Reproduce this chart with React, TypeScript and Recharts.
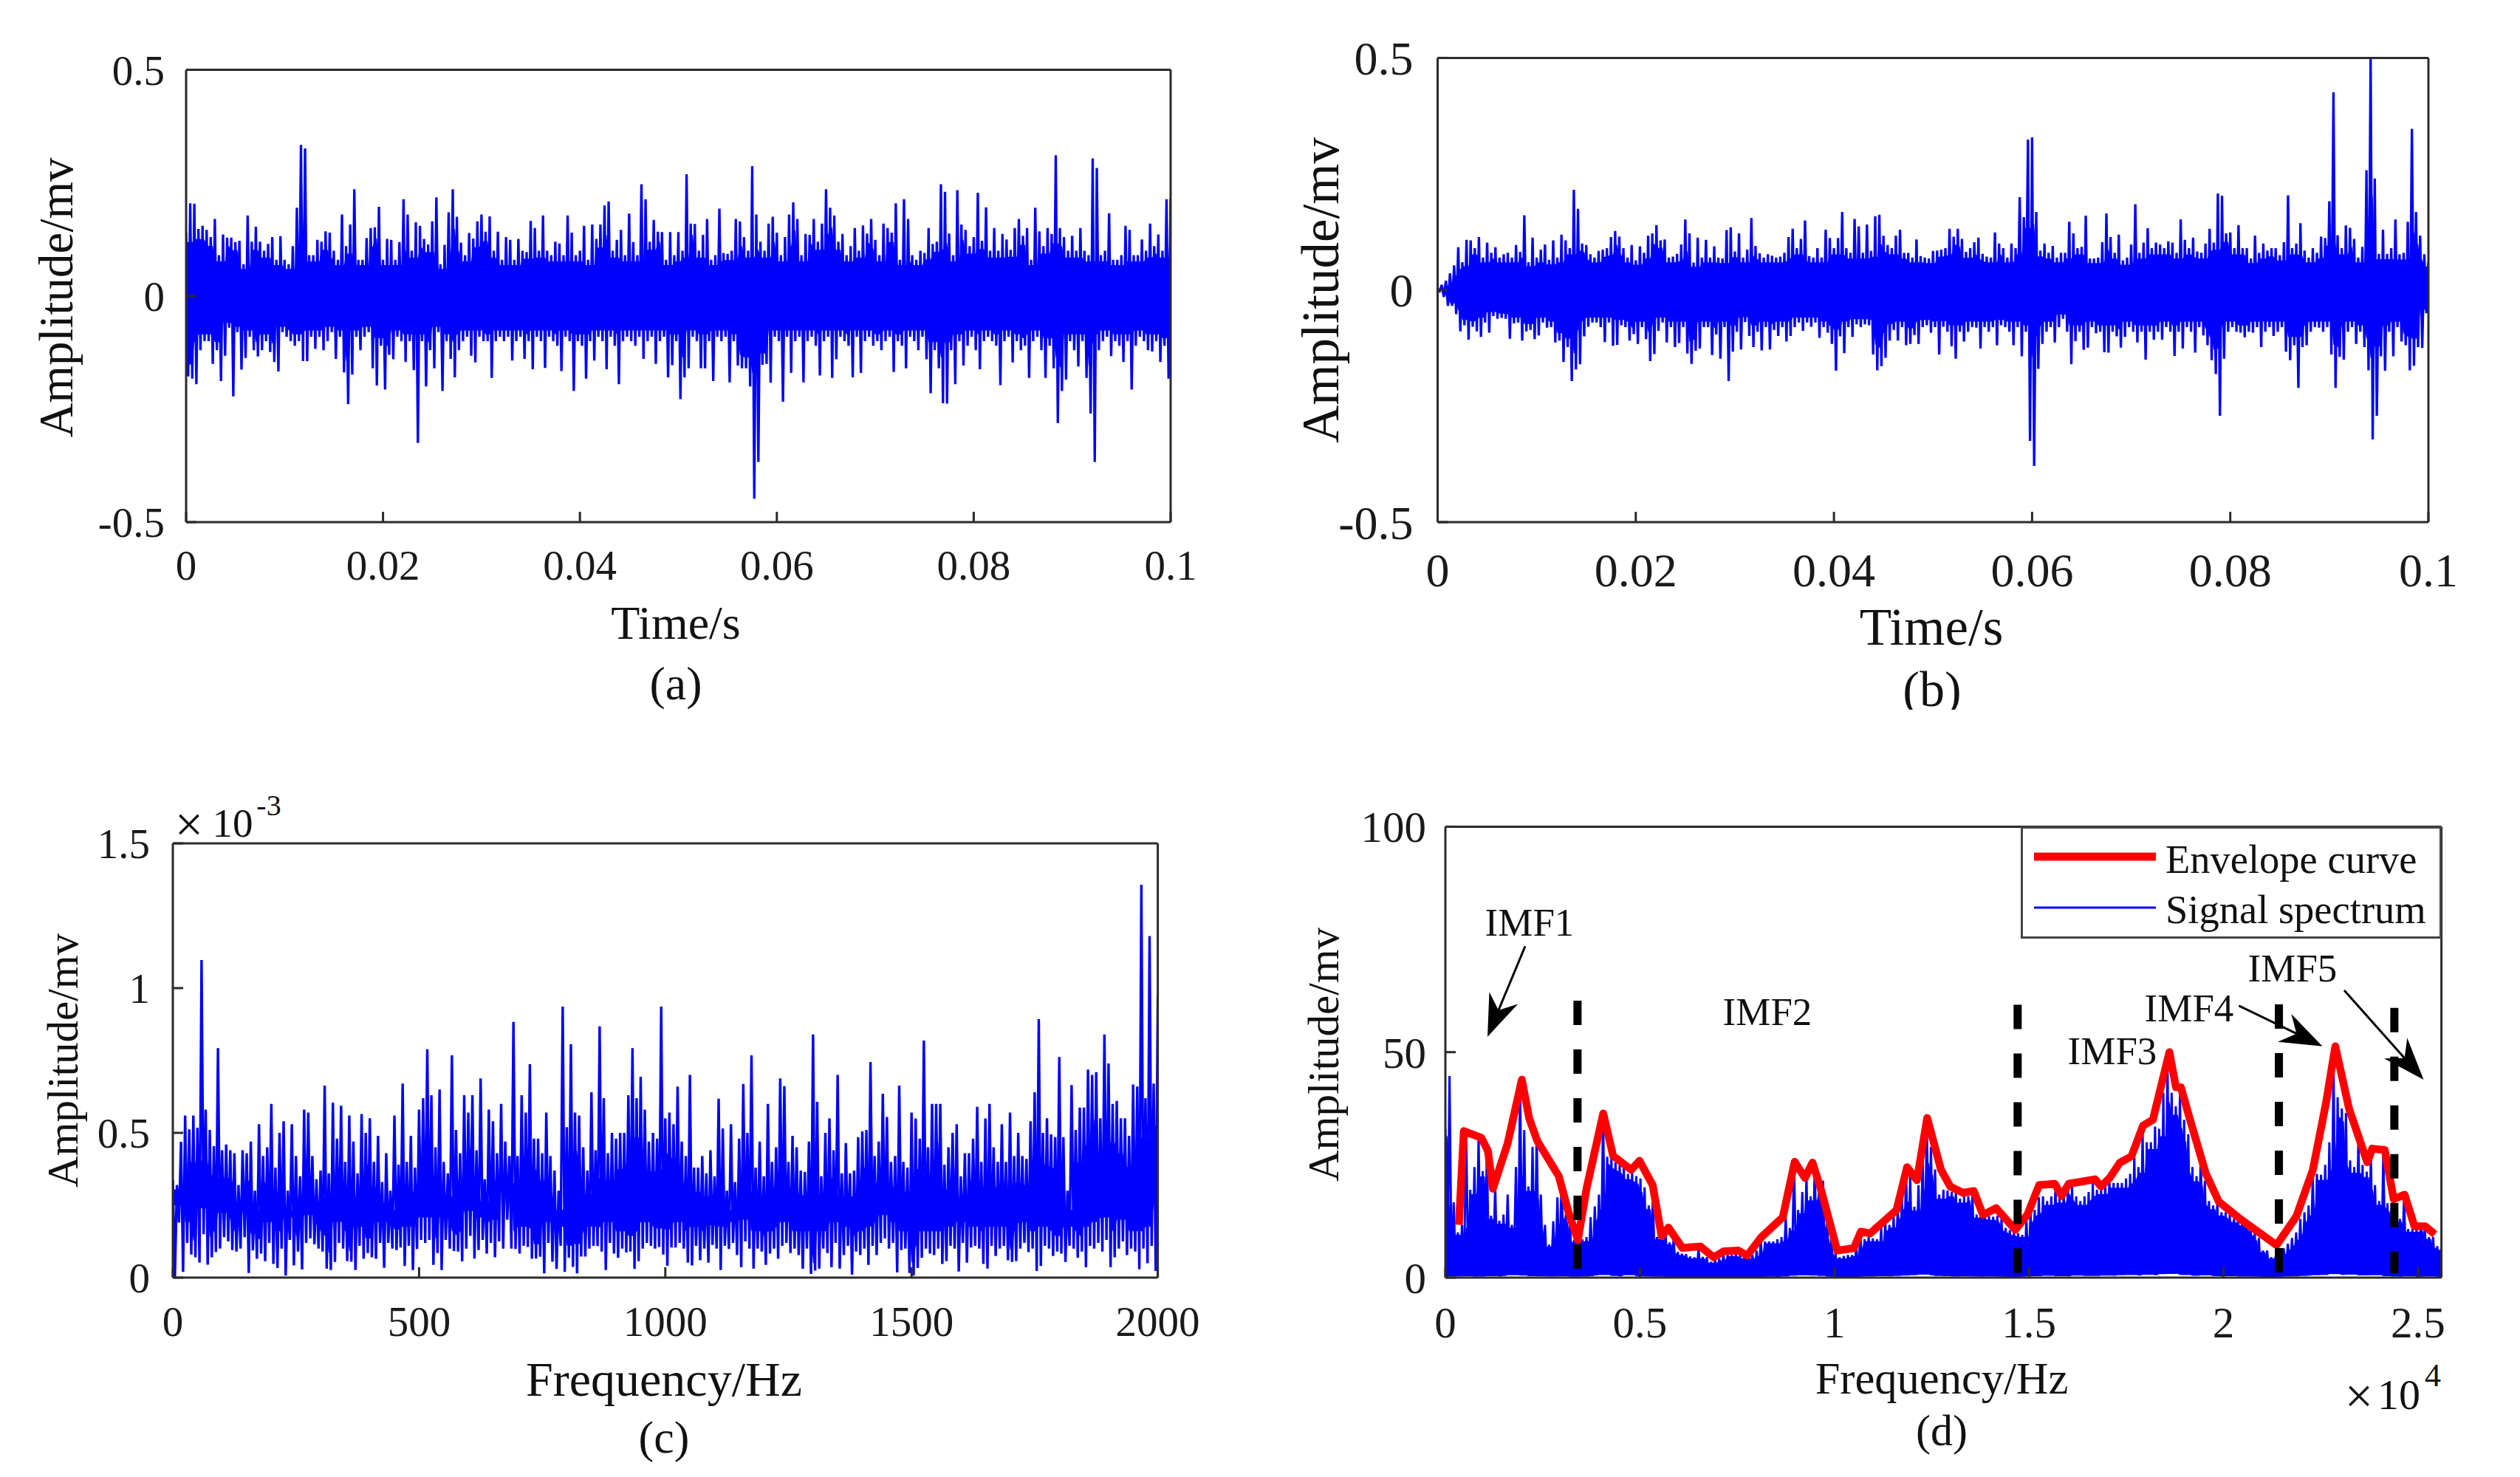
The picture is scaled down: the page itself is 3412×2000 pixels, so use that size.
import type { ReactNode } from 'react';
import { ComposedChart, Area, Line, XAxis, YAxis, ReferenceLine, Legend } from 'recharts';

// panel (a): time signal, peak read per slot along the time axis (mv)
const upperA = [
  .14,.205,.204,.148,.155,.146,.13,.17,.09,.136,.129,.129,.119,.122,.07,.178,.12,.153,.12,.10,
  .115,.13,.08,.132,.08,.07,.11,.195,.334,.326,.09,.09,.124,.12,.143,.14,.10,.08,.18,.11,
  .158,.236,.08,.08,.128,.15,.152,.197,.08,.126,.124,.08,.119,.214,.18,.10,.163,.155,.126,.114,
  .165,.218,.07,.113,.185,.236,.175,.118,.09,.139,.127,.165,.18,.142,.176,.10,.142,.08,.13,.124,
  .08,.126,.10,.097,.166,.15,.10,.178,.10,.09,.12,.116,.09,.178,.14,.09,.10,.155,.08,.158,
  .126,.158,.20,.209,.10,.124,.146,.09,.182,.119,.09,.247,.214,.12,.168,.142,.141,.08,.141,.09,
  .141,.10,.269,.16,.159,.10,.135,.17,.08,.09,.193,.095,.093,.10,.17,.165,.13,.10,.287,.18,
  .12,.10,.16,.175,.14,.09,.13,.18,.207,.17,.09,.137,.135,.17,.12,.16,.236,.195,.178,.12,
  .137,.09,.11,.15,.10,.156,.138,.17,.124,.09,.16,.15,.14,.205,.08,.214,.17,.09,.08,.10,
  .095,.15,.115,.12,.247,.23,.138,.09,.234,.158,.146,.11,.13,.228,.122,.196,.10,.15,.10,.137,
  .125,.102,.15,.17,.133,.15,.08,.195,.143,.11,.15,.137,.311,.15,.13,.10,.133,.10,.15,.10,
  .09,.304,.283,.09,.10,.183,.08,.08,.09,.155,.146,.09,.09,.125,.10,.16,.11,.136,.10,.214,
  .216,
];
const lowerA = [
  -.178,-.183,-.195,-.12,-.10,-.10,-.15,-.12,-.188,-.132,-.07,-.222,-.08,-.163,-.137,-.09,-.12,-.134,-.12,-.10,
  -.124,-.146,-.167,-.08,-.09,-.10,-.11,-.10,-.144,-.144,-.09,-.117,-.09,-.12,-.10,-.08,-.139,-.09,-.169,-.239,
  -.174,-.09,-.12,-.09,-.08,-.16,-.198,-.11,-.207,-.13,-.14,-.09,-.10,-.146,-.10,-.164,-.325,-.10,-.2,-.12,
  -.16,-.08,-.21,-.10,-.139,-.18,-.12,-.10,-.09,-.132,-.147,-.09,-.10,-.10,-.181,-.10,-.09,-.10,-.09,-.143,
  -.10,-.09,-.139,-.10,-.162,-.09,-.10,-.159,-.09,-.10,-.11,-.166,-.09,-.10,-.21,-.10,-.11,-.183,-.10,-.143,
  -.09,-.10,-.162,-.09,-.11,-.195,-.10,-.09,-.10,-.11,-.09,-.139,-.10,-.09,-.15,-.10,-.09,-.18,-.153,-.10,
  -.228,-.18,-.16,-.09,-.10,-.16,-.16,-.10,-.188,-.09,-.10,-.09,-.191,-.10,-.154,-.16,-.16,-.2,-.448,-.367,
  -.152,-.15,-.192,-.09,-.10,-.234,-.09,-.17,-.10,-.09,-.191,-.10,-.09,-.11,-.176,-.10,-.09,-.181,-.14,-.09,
  -.10,-.11,-.18,-.09,-.17,-.10,-.09,-.11,-.10,-.12,-.10,-.09,-.168,-.10,-.11,-.16,-.09,-.10,-.12,-.09,
  -.14,-.215,-.12,-.16,-.237,-.238,-.12,-.195,-.10,-.154,-.11,-.09,-.12,-.162,-.10,-.09,-.10,-.11,-.197,-.10,
  -.09,-.147,-.10,-.12,-.11,-.181,-.10,-.09,-.12,-.181,-.11,-.16,-.281,-.21,-.185,-.10,-.12,-.156,-.10,-.181,
  -.26,-.367,-.12,-.10,-.09,-.133,-.10,-.11,-.146,-.10,-.207,-.11,-.09,-.10,-.12,-.123,-.10,-.146,-.11,-.183,
  -.22,
];

// panel (b)
const upperB = [
  .003,.011,.02,.036,.053,.092,.06,.108,.107,.09,.114,.07,.102,.08,.092,.07,.077,.08,.07,.097,
  .082,.161,.06,.113,.07,.087,.098,.065,.107,.07,.119,.107,.09,.216,.175,.10,.097,.077,.07,.084,
  .087,.09,.114,.127,.115,.09,.07,.097,.064,.094,.08,.117,.122,.14,.107,.109,.07,.072,.078,.098,
  .152,.122,.059,.113,.07,.108,.07,.094,.07,.068,.129,.135,.083,.122,.07,.087,.155,.095,.079,.07,
  .077,.074,.07,.072,.08,.114,.132,.09,.11,.15,.073,.07,.09,.07,.13,.112,.09,.112,.168,.09,
  .08,.153,.137,.08,.141,.084,.159,.162,.117,.097,.09,.117,.13,.08,.08,.07,.109,.073,.07,.068,
  .084,.085,.087,.09,.132,.115,.132,.11,.082,.09,.103,.113,.078,.072,.07,.124,.10,.09,.07,.10,
  .09,.20,.157,.324,.329,.168,.085,.10,.08,.095,.07,.08,.08,.147,.122,.09,.093,.16,.068,.068,
  .07,.103,.165,.114,.08,.119,.064,.07,.098,.185,.08,.102,.133,.09,.102,.098,.09,.105,.102,.08,
  .152,.108,.09,.113,.083,.08,.10,.132,.102,.208,.203,.122,.124,.09,.14,.09,.09,.068,.117,.08,
  .10,.085,.09,.09,.075,.103,.204,.09,.10,.144,.085,.07,.09,.08,.115,.112,.191,.426,.118,.09,
  .139,.134,.11,.07,.093,.258,.5,.24,.078,.13,.078,.09,.152,.077,.08,.147,.347,.168,.117,.077,
  .06,
];
const lowerB = [
  -.002,-.015,-.034,-.034,-.052,-.089,-.076,-.107,-.079,-.089,-.101,-.07,-.092,-.056,-.062,-.06,-.062,-.105,-.072,-.07,
  -.109,-.089,-.086,-.106,-.098,-.07,-.081,-.08,-.113,-.109,-.155,-.123,-.196,-.171,-.16,-.10,-.079,-.07,-.07,-.08,
  -.112,-.07,-.12,-.118,-.076,-.08,-.109,-.095,-.116,-.08,-.106,-.153,-.138,-.088,-.07,-.113,-.08,-.123,-.114,-.08,
  -.137,-.159,-.131,-.126,-.08,-.08,-.14,-.096,-.148,-.08,-.196,-.133,-.09,-.128,-.069,-.099,-.123,-.09,-.13,-.08,
  -.128,-.086,-.099,-.08,-.111,-.099,-.08,-.07,-.088,-.07,-.079,-.07,-.103,-.08,-.092,-.116,-.174,-.10,-.136,-.08,
  -.101,-.074,-.08,-.074,-.076,-.139,-.173,-.164,-.146,-.109,-.086,-.109,-.08,-.119,-.116,-.097,-.116,-.08,-.076,-.092,
  -.08,-.139,-.079,-.09,-.121,-.148,-.09,-.111,-.09,-.08,-.081,-.126,-.08,-.09,-.08,-.119,-.076,-.08,-.09,-.119,
  -.08,-.143,-.09,-.325,-.379,-.17,-.116,-.09,-.08,-.113,-.08,-.062,-.09,-.16,-.11,-.09,-.129,-.124,-.08,-.093,
  -.09,-.134,-.135,-.09,-.10,-.124,-.101,-.08,-.09,-.113,-.09,-.15,-.09,-.107,-.09,-.107,-.08,-.09,-.142,-.09,
  -.126,-.08,-.09,-.135,-.08,-.098,-.119,-.151,-.181,-.271,-.148,-.09,-.08,-.09,-.092,-.102,-.09,-.092,-.08,-.123,
  -.09,-.08,-.099,-.09,-.08,-.133,-.151,-.119,-.211,-.123,-.119,-.09,-.08,-.081,-.09,-.08,-.139,-.211,-.144,-.15,
  -.09,-.08,-.116,-.09,-.123,-.173,-.322,-.271,-.143,-.174,-.09,-.143,-.08,-.111,-.119,-.173,-.163,-.123,-.125,-.05,
  -.05,
];

// panel (c): spectrum in units of 1e-3 mv
const upperC = [
  .338,.32,.469,.56,.512,.56,.518,1.097,.58,.51,.454,.793,.44,.46,.44,.43,.32,.44,.43,.47,
  .30,.53,.42,.45,.6,.38,.5,.54,.30,.53,.42,.35,.58,.57,.42,.34,.37,.663,.36,.604,
  .48,.594,.40,.56,.47,.36,.565,.50,.55,.40,.49,.33,.43,.30,.56,.39,.67,.40,.49,.38,
  .58,.62,.789,.63,.45,.65,.40,.36,.768,.51,.43,.63,.57,.63,.44,.688,.34,.58,.54,.43,
  .60,.47,.42,.883,.42,.63,.57,.737,.48,.48,.43,.57,.42,.37,.30,.936,.52,.806,.57,.56,
  .45,.37,.64,.44,.868,.62,.43,.50,.48,.50,.50,.63,.793,.62,.694,.58,.47,.50,.48,.936,
  .55,.57,.53,.66,.47,.42,.70,.38,.38,.42,.36,.44,.35,.618,.515,.30,.53,.33,.48,.669,
  .50,.768,.38,.47,.35,.60,.40,.45,.688,.661,.40,.49,.45,.37,.365,.47,.84,.607,.35,.50,
  .55,.44,.70,.36,.465,.36,.37,.485,.505,.51,.745,.42,.47,.635,.555,.40,.42,.663,.40,.38,
  .57,.55,.48,.819,.45,.60,.60,.60,.39,.45,.50,.53,.35,.43,.43,.48,.59,.40,.55,.60,
  .45,.40,.53,.40,.57,.42,.50,.42,.41,.54,.64,.893,.50,.55,.495,.485,.762,.485,.30,.665,
  .51,.587,.587,.719,.70,.71,.55,.84,.74,.60,.61,.55,.55,.49,.667,.66,1.357,.62,1.18,.67,
  .972,
];
const lowerC = [
  0,.19,.02,.12,.08,.07,.052,.15,.045,.07,.088,.10,.14,.125,.095,.09,.10,.14,.016,.094,
  .065,.083,.057,.12,.047,.033,.10,.007,.13,.042,.09,.028,.12,.135,.115,.10,.09,.031,.026,.054,
  .12,.10,.057,.055,.026,.11,.065,.085,.07,.065,.12,.034,.12,.10,.095,.104,.04,.11,.026,.099,
  .13,.12,.13,.044,.085,.026,.13,.10,.092,.09,.056,.10,.144,.066,.095,.13,.083,.12,.07,.125,
  .10,.20,.10,.099,.083,.11,.106,.065,.066,.072,.015,.12,.055,.03,.11,.02,.069,.037,.015,.073,
  .073,.10,.11,.109,.09,.026,.12,.083,.068,.10,.087,.09,.03,.057,.10,.12,.11,.10,.106,.08,
  .041,.104,.104,.12,.10,.052,.042,.11,.06,.10,.052,.113,.10,.026,.11,.099,.12,.078,.036,.125,
  .10,.031,.10,.09,.044,.083,.10,.065,.11,.12,.085,.10,.078,.031,.10,.013,.024,.031,.10,.085,
  .036,.12,.031,.078,.11,.01,.09,.078,.10,.044,.11,.078,.12,.135,.10,.12,.018,.095,.10,.016,
  .007,.033,.068,.10,.083,.078,.10,.047,.057,.11,.10,.021,.12,.052,.104,.11,.10,.047,.031,.11,
  .075,.10,.11,.06,.054,.057,.10,.12,.088,.10,.023,.04,.11,.10,.075,.09,.083,.054,.11,.10,
  .068,.09,.036,.11,.10,.12,.09,.13,.036,.07,.10,.125,.078,.10,.09,.029,.10,.05,.11,.023,
  .16,
];

// panel (d): signal spectrum top and bottom fringe
const upperD = [
  33,44.7,16.7,10,11.7,32.7,19.5,24.5,31.2,23.6,28.5,13.7,20.5,12.6,14,18.4,11.7,24.5,43.5,32.7,
  20.2,29,32,18.4,11.7,7.3,12.5,17.8,22.4,14,13,8.3,8.6,8.5,9,13.4,15.8,18.4,36.4,26.8,
  26.5,25.5,25,24.5,23,23.5,22.5,22,20,16,18,9,9.2,11,7.8,8.8,5.7,5.3,5.2,4.7,
  4.5,6.5,4.6,4.5,3.5,4,4.2,5.2,5,5,5.5,5,4.5,4.5,5,6,8.3,8,8,8,
  8.5,9,13.5,11,25.6,15,19,22.5,18,25.2,20,21.5,12.5,9,5.5,4.5,4.8,5,5,7,
  10,8.5,9,8.7,8.5,11,12.5,11.7,13.7,16,17.8,24.2,22.5,15.7,20.5,26.8,34.8,29,24,18.4,
  19.5,19.3,19,19,17.5,18,18,18.5,14,14.5,14,13.6,13.5,13.7,13,11,10.5,10,9.8,9.5,
  13,14.5,15,17.8,18,17,18,20.5,17.5,19.5,20.5,20.5,18,17,18,19,21,19.5,19.5,21,
  22,21,21,21,22,23,26.8,24.5,32,30,30,33.5,33,41,47.9,41,38,41,35,31.8,
  24.5,22.5,27.6,21.5,17,16,16.8,14.5,14.5,14,13,13,12.3,12,11.2,10,8.8,6,6,4.5,
  4.6,5.5,6.5,7.5,8.8,10,13,14.5,16,23,23,22.8,25,30,47.6,40,37.5,36.5,26,24.5,
  31,25,23.5,27,20.5,17,27.5,16.5,15.5,13,13,18.4,10.8,10.7,11,11,11.3,9,9,7,
  6.5,
];
const lowerD = [
  .3,.8,1.2,.6,.9,1.5,.7,1.1,.5,1.3,.8,1.6,.6,1.2,.9,1.8,2.6,.8,2.3,1.1,
  1.7,.6,1,1.4,.5,.9,1.2,.7,1.5,.8,.6,1,.5,.7,1.3,.8,1.6,2.2,2.8,1.4,
  1.9,.9,1.5,.7,2.6,1.1,1.4,.8,1.2,.9,.6,1.1,.5,.8,.6,.9,.5,.7,.4,.6,
  .5,.4,.7,.5,.4,.6,.3,.5,.6,.4,.5,.7,.4,.6,.5,.7,.6,.9,1.1,.6,
  .8,.6,1.2,.9,2.1,1.6,2.4,1.2,2.2,1.5,1.8,.9,1.1,.7,.5,.6,.8,.5,.7,.9,
  .6,1,1.3,.8,1.2,1.6,.7,1.4,1.1,1.9,1.3,2.2,1.6,2.6,2,3.2,2.4,1.5,1.9,1.2,
  1.6,.8,1.3,1.1,.7,1.4,.9,1.2,.6,1,.8,1.2,.7,1,.5,.9,.6,.8,.5,.7,
  1,1.4,.8,1.6,1.1,2,1.3,1,1.7,.9,1.5,1.1,2.2,1.2,1.8,.8,1.4,1.9,1,2.3,
  1.5,2.1,1.3,2.6,1.6,2.9,1.8,1.4,2.2,3.1,1.9,2.7,1.5,3.8,2.1,4,2.4,1.3,2.9,1.6,
  2.1,1.2,1.8,2.5,1.1,1.7,.8,1.4,1,1.6,.7,1.2,.9,1.3,.6,1,.7,.5,.8,.4,
  .6,.9,.7,1.2,.9,1.5,1.1,1.9,1.4,2.2,2.6,1.5,2.9,1.8,3.9,2.3,2.8,1.6,3.2,2,
  1.5,2.4,1.2,1.9,2.7,1.1,1.6,.9,1.3,.7,1.1,.6,1.4,.8,.5,1,.7,1.2,.5,.8,
  .6,
];

const envelopeHz = [
  347,474,923,1093,1220,1601,1965,2151,2363,2914,3168,3405,3634,4057,4311,4777,4989,5328,5556,5734,
  6090,6556,6895,7149,7530,7759,8123,8673,8978,9241,9436,9647,10071,10494,10681,10918,11595,11866,12120,12383,
  12739,12976,13309,13580,13818,14157,14649,14962,15259,15666,15836,16022,16700,16853,17082,17336,17633,17930,18184,18608,
  18777,18905,19116,19540,19880,20431,21363,21872,22296,22635,22872,23228,23694,23822,24144,24373,24653,24907,25178,25433,
];
const envelopeAmp = [
  11.7,32.5,31,28.1,19.7,29.8,43.9,35.4,30.3,22.5,14.4,8.3,20,36.4,27,23.9,25.9,20.5,9.2,11.1,
  6.6,6.9,4.5,5.8,6,4.9,9,13.4,25.7,22.1,25.5,19.7,6,6.5,10.2,9.8,15,24.5,21.6,35.4,
  23.9,20.2,18.8,19.2,13.9,15.4,10.6,14,20.5,20.8,18.1,20.8,21.8,20.2,22.2,25.5,26.9,33.7,35,50,
  42.2,42.2,35.7,23.2,16.8,13,7.2,13.6,23.9,38.8,51.3,37.4,25.6,28.6,28.3,17.4,18.4,11.4,11.4,9.6,
];

const imfBoundsHz = [3396, 14708, 21423, 24390];
const imfBoundsTop = [61.4, 60.5, 60.6, 59.8];
const legendLabels = ['Envelope curve', 'Signal spectrum'];

const timeTicks = [0, 0.02, 0.04, 0.06, 0.08, 0.1];
const signalTicks = [-0.5, 0, 0.5];
const hzTicksC = [0, 500, 1000, 1500, 2000];
const ampTicksC = [0, 0.5, 1, 1.5];
const hzTicksD = [0, 5000, 10000, 15000, 20000, 25000];
const ampTicksD = [0, 50, 100];

const BLUE = '#0000ff';
const INK = '#2b2b2b';
const SERIF = '"Liberation Serif", serif';

// alternates top and bottom of each slot so the line sweeps like the real trace;
// the band fills the dense middle the trace leaves solid in the figure
function traceRows(xMax: number, upper: number[], lower: number[], loScale: number, hiScale: number) {
  const step = xMax / (upper.length - 1);
  const rows: { x: number; amp: number; band: number[] }[] = [];
  upper.forEach((top, i) => {
    const near = [i - 1, i, i + 1].filter((k) => k >= 0 && k < upper.length);
    const band = [
      Math.max(...near.map((k) => lower[k])) * loScale,
      Math.min(...near.map((k) => upper[k])) * hiScale,
    ];
    rows.push({ x: i * step, amp: top, band });
    rows.push({ x: (i + 0.5) * step, amp: lower[i], band });
  });
  return rows;
}

type Box = { x: number; y: number; w: number; h: number };
type Plot = { left: number; right: number; top: number; bottom: number };

function Panel(props: {
  frame: Box; plot: Plot; rows: any[]; lineWidth: number;
  xTicks: number[]; yTicks: number[]; xMax: number; yDomain: number[];
  fontSize: number; xMargin: number; yMargin: number;
  xFormat?: (v: number) => string; children?: ReactNode;
}) {
  const { frame, plot, rows, lineWidth, xTicks, yTicks, xMax, yDomain, fontSize, xMargin, yMargin, xFormat, children } = props;
  const tick = { fontSize, fontFamily: SERIF, fill: '#1a1a1a' };
  const axisLine = { stroke: INK, strokeWidth: 3 };
  const tickLine = { stroke: INK, strokeWidth: 3 };
  return (
    <div style={{ position: 'absolute', left: frame.x, top: frame.y }}>
      <ComposedChart
        width={frame.w}
        height={frame.h}
        data={rows}
        margin={{ top: plot.top - frame.y - 1, right: frame.x + frame.w - plot.right - 1, left: 0, bottom: 0 }}
      >
        <XAxis type="number" dataKey="x" domain={[0, xMax]} ticks={xTicks} interval={0} allowDataOverflow
          height={frame.y + frame.h - plot.bottom} tick={tick} tickSize={-14} tickMargin={xMargin}
          tickFormatter={xFormat} axisLine={axisLine} tickLine={tickLine} />
        <XAxis xAxisId="mirror" orientation="top" type="number" domain={[0, xMax]} ticks={xTicks} interval={0}
          height={1} tick={false} tickSize={-14} axisLine={axisLine} tickLine={tickLine} />
        <YAxis type="number" domain={yDomain} ticks={yTicks} interval={0} allowDataOverflow
          width={plot.left - frame.x} tick={tick} tickSize={-14} tickMargin={yMargin}
          axisLine={axisLine} tickLine={tickLine} />
        <YAxis yAxisId="mirror" orientation="right" type="number" domain={yDomain} ticks={yTicks} interval={0}
          width={1} tick={false} tickSize={-14} axisLine={axisLine} tickLine={tickLine} />
        <Area dataKey="band" stroke="none" fill={BLUE} fillOpacity={1} dot={false} activeDot={false} isAnimationActive={false} />
        <Line dataKey="amp" stroke={BLUE} strokeWidth={lineWidth} dot={false} activeDot={false} isAnimationActive={false} />
        {children}
      </ComposedChart>
    </div>
  );
}

function ArrowShape(p: any) {
  const { x1, y1, x2, y2 } = p;
  const len = Math.hypot(x2 - x1, y2 - y1);
  const ux = (x2 - x1) / len;
  const uy = (y2 - y1) / len;
  const baseX = x2 - ux * 57;
  const baseY = y2 - uy * 57;
  const head = [
    [x2, y2],
    [baseX - uy * 21, baseY + ux * 21],
    [x2 - ux * 39, y2 - uy * 39],
    [baseX + uy * 21, baseY - ux * 21],
  ];
  return (
    <g>
      <line x1={x1} y1={y1} x2={x2 - ux * 39} y2={y2 - uy * 39} stroke="#000" strokeWidth={3} />
      <polygon points={head.map((q) => q.join(',')).join(' ')} fill="#000" />
    </g>
  );
}

function SpectrumLegend() {
  return (
    <svg width={570} height={152} style={{ display: 'block' }}>
      <rect x={1.5} y={1.5} width={567} height={149} fill="#fff" stroke="#444" strokeWidth={3} />
      <line x1={18} y1={41} x2={183} y2={41} stroke="#ff0000" strokeWidth={11} />
      <line x1={18} y1={110} x2={183} y2={110} stroke={BLUE} strokeWidth={3} />
      <text x={196} y={63} fontSize={54.5} fontFamily={SERIF} fill="#111">{legendLabels[0]}</text>
      <text x={196} y={131} fontSize={54.5} fontFamily={SERIF} fill="#111">{legendLabels[1]}</text>
    </svg>
  );
}

function Note(p: { x: number; y: number; size: number; rotate?: boolean; children: ReactNode }) {
  return (
    <text
      x={p.x}
      y={p.y}
      fontSize={p.size}
      fontFamily={SERIF}
      fill="#111"
      textAnchor="middle"
      dominantBaseline="central"
      transform={p.rotate ? `rotate(-90 ${p.x} ${p.y})` : undefined}
    >
      {p.children}
    </text>
  );
}

const rowsA = traceRows(0.1, upperA, lowerA, 0.85, 0.85);
const rowsB = traceRows(0.1, upperB, lowerB, 0.85, 0.85);
const rowsC = traceRows(2000, upperC, lowerC, 1.6, 0.78);
const rowsD = traceRows(25600, upperD, lowerD, 0.2, 0.95);
const envelopeRows = envelopeHz.map((x, i) => ({ x, envelope: envelopeAmp[i] }));

export default function App() {
  return (
    <div style={{ position: 'absolute', left: 0, top: 0, width: 3412, height: 2000, background: '#fff', overflow: 'hidden' }}>
      <Panel frame={{ x: 0, y: 0, w: 1706, h: 1000 }} plot={{ left: 252, right: 1585, top: 94.5, bottom: 707 }}
        rows={rowsA} lineWidth={3.3} xTicks={timeTicks} yTicks={signalTicks} xMax={0.1} yDomain={[-0.5, 0.5]}
        fontSize={57} xMargin={52} yMargin={43} />
      <Panel frame={{ x: 1706, y: 0, w: 1706, h: 1000 }} plot={{ left: 1946.5, right: 3288, top: 78.4, bottom: 707 }}
        rows={rowsB} lineWidth={3.3} xTicks={timeTicks} yTicks={signalTicks} xMax={0.1} yDomain={[-0.5, 0.5]}
        fontSize={64} xMargin={56} yMargin={47} />
      <Panel frame={{ x: 0, y: 1000, w: 1706, h: 1000 }} plot={{ left: 234, right: 1567.6, top: 1142, bottom: 1730 }}
        rows={rowsC} lineWidth={3.4} xTicks={hzTicksC} yTicks={ampTicksC} xMax={2000} yDomain={[0, 1.5]}
        fontSize={57} xMargin={53} yMargin={45} />
      <Panel frame={{ x: 1706, y: 1000, w: 1706, h: 1000 }} plot={{ left: 1957, right: 3305.6, top: 1119.4, bottom: 1730 }}
        rows={rowsD} lineWidth={3} xTicks={hzTicksD} yTicks={ampTicksD} xMax={25600} yDomain={[0, 100]}
        fontSize={59} xMargin={53} yMargin={40} xFormat={(v) => String(v / 10000)}>
        <Line data={envelopeRows} dataKey="envelope" stroke="#ff0000" strokeWidth={10.5} strokeLinejoin="round" dot={false} activeDot={false} isAnimationActive={false} />
        {imfBoundsHz.map((hz, i) => (
          <ReferenceLine key={hz} segment={[{ x: hz, y: imfBoundsTop[i] }, { x: hz, y: 1 }]} stroke="#000" strokeWidth={11} strokeDasharray="33 33" />
        ))}
        <ReferenceLine segment={[{ x: 2051, y: 73.5 }, { x: 1082, y: 53.4 }]} shape={ArrowShape} />
        <ReferenceLine segment={[{ x: 20395, y: 60.3 }, { x: 22541, y: 51.3 }]} shape={ArrowShape} />
        <ReferenceLine segment={[{ x: 23102, y: 63.7 }, { x: 25143, y: 43.9 }]} shape={ArrowShape} />
        <Legend
          layout="horizontal"
          verticalAlign="middle"
          align="center"
          content={() => <SpectrumLegend />}
          wrapperStyle={{ left: 1030, top: 119.4, width: 570, height: 152, bottom: 'auto' }}
        />
      </Panel>

      <svg width={3412} height={2000} style={{ position: 'absolute', left: 0, top: 0, pointerEvents: 'none' }}>
        <Note x={76} y={403} size={65} rotate>Amplitude/mv</Note>
        <Note x={915} y={843} size={64}>Time/s</Note>
        <Note x={915} y={925} size={64}>(a)</Note>

        <Note x={1788} y={393} size={71} rotate>Amplitude/mv</Note>
        <Note x={2615} y={849} size={71}>Time/s</Note>
        <Note x={2616} y={933} size={68}>(b)</Note>
        <rect x={2540} y={961} width={150} height={30} fill="#fff" />

        <Note x={85} y={1436} size={59} rotate>Amplitude/mv</Note>
        <Note x={899} y={1867} size={66}>Frequency/Hz</Note>
        <Note x={899} y={1946} size={62}>(c)</Note>
        <Note x={256} y={1116} size={68}>×</Note>
        <Note x={315} y={1114} size={55}>10</Note>
        <Note x={364} y={1090} size={40}>-3</Note>

        <Note x={1792} y={1428} size={59} rotate>Amplitude/mv</Note>
        <Note x={2629} y={1866} size={60.5}>Frequency/Hz</Note>
        <Note x={2629} y={1937} size={60}>(d)</Note>
        <Note x={3194} y={1890} size={68}>×</Note>
        <Note x={3248} y={1888} size={58}>10</Note>
        <Note x={3294} y={1862} size={44}>4</Note>

        <Note x={2071} y={1249} size={53}>IMF1</Note>
        <Note x={2393} y={1370} size={53}>IMF2</Note>
        <Note x={2860} y={1423} size={53}>IMF3</Note>
        <Note x={2964} y={1365} size={53}>IMF4</Note>
        <Note x={3104} y={1311} size={53}>IMF5</Note>
      </svg>
    </div>
  );
}
